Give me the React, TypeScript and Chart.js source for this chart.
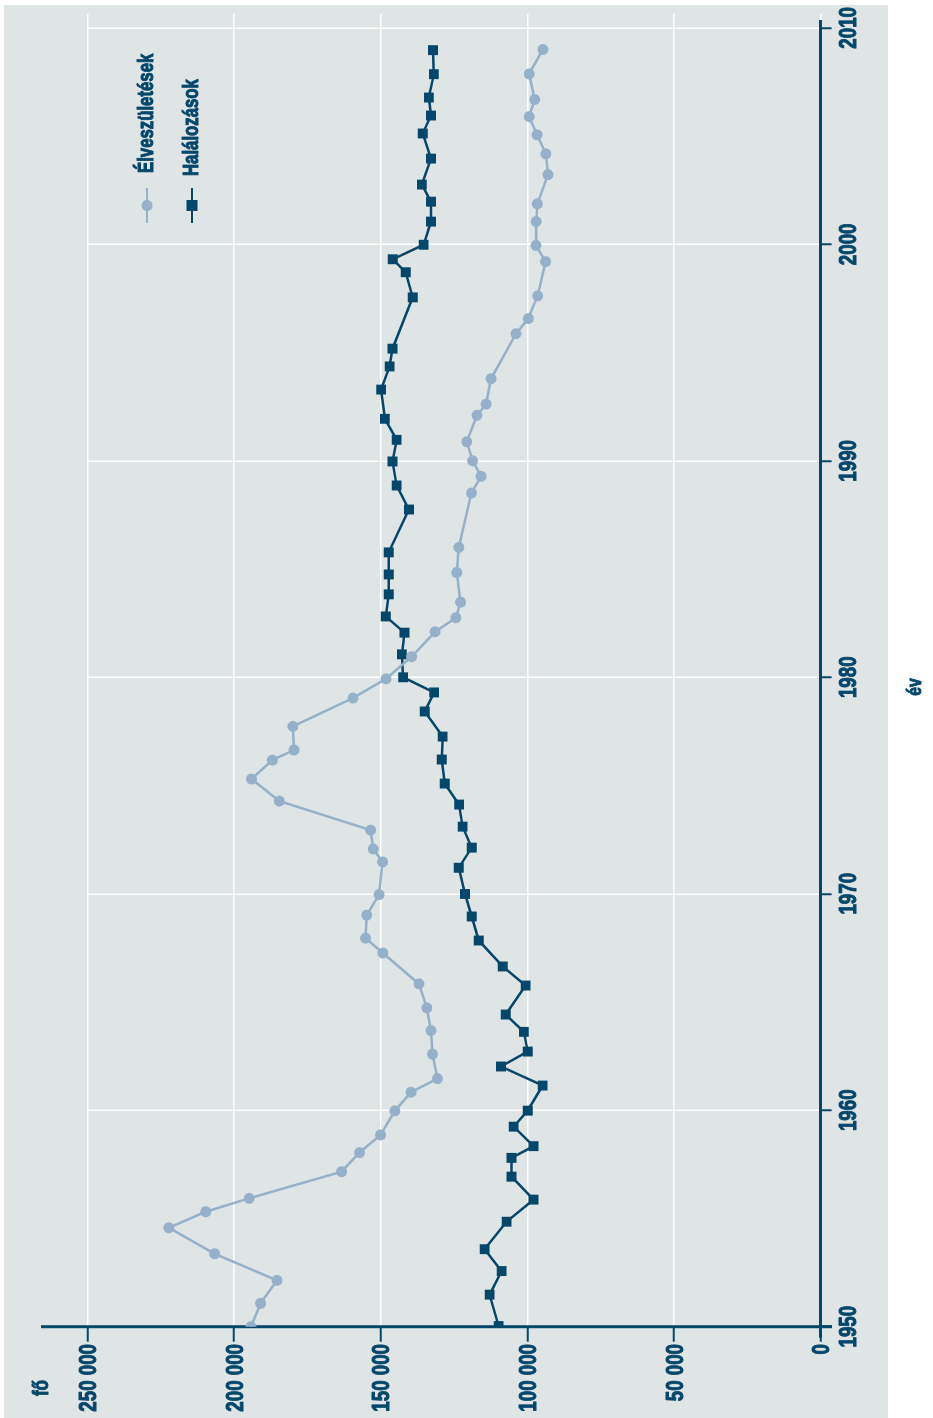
import React, { useEffect, useRef } from "react";
import { Chart, registerables } from "chart.js";

Chart.register(...registerables);

// ---- data ----
const birthYears = [
  1950.0, 1951.08, 1952.14, 1953.37, 1954.57, 1955.31, 1955.93, 1957.16, 1958.04, 1958.86,
  1959.97, 1960.83, 1961.46, 1962.59, 1963.68, 1964.73, 1965.84, 1967.26, 1967.95, 1969.01,
  1969.96, 1971.47, 1972.07, 1972.94, 1974.28, 1975.3, 1976.17, 1976.64, 1977.73, 1979.04,
  1979.93, 1980.95, 1982.1, 1982.75, 1983.47, 1984.84, 1986.0, 1988.51, 1989.28, 1990.0,
  1990.88, 1992.1, 1992.62, 1993.79, 1995.87, 1996.57, 1997.62, 1999.2, 1999.95, 2001.05,
  2001.87, 2003.22, 2004.18, 2005.06, 2005.9, 2006.69, 2007.87, 2009.0,
];
const birthValues = [
  194300, 191000, 185400, 206700, 222300, 209700, 194900, 163400, 157300, 150100,
  145200, 139700, 130700, 132400, 132900, 134300, 137000, 149300, 155200, 154800,
  150600, 149400, 152600, 153500, 184600, 194100, 187000, 179600, 180000, 159500,
  148200, 139500, 131500, 124400, 122800, 124100, 123400, 119100, 115800, 118700,
  120700, 117200, 114100, 112400, 103900, 99700, 96500, 93800, 97100, 97000,
  96600, 93000, 93700, 96700, 99400, 97500, 99400, 94700,
];
const deathYears = [
  1950.03, 1951.48, 1952.57, 1953.58, 1954.85, 1955.87, 1956.93, 1957.8, 1958.34, 1959.24,
  1959.98, 1961.14, 1962.02, 1962.71, 1963.62, 1964.42, 1965.76, 1966.64, 1967.84, 1968.95,
  1969.99, 1971.2, 1972.13, 1973.1, 1974.12, 1975.09, 1976.2, 1977.26, 1978.42, 1979.3,
  1980.0, 1981.06, 1982.06, 1982.81, 1983.83, 1984.75, 1985.77, 1987.75, 1988.86, 1989.97,
  1990.97, 1991.94, 1993.29, 1994.36, 1995.18, 1997.55, 1998.71, 1999.31, 1999.98, 2001.05,
  2001.97, 2002.76, 2003.96, 2005.12, 2005.95, 2006.78, 2007.86, 2008.97,
];
const deathValues = [
  109800, 112900, 108800, 114600, 107100, 97900, 105400, 105400, 97900, 104700,
  99900, 94800, 109000, 99900, 101200, 107400, 100600, 108400, 116600, 119000,
  121300, 123400, 119000, 122100, 123300, 128200, 129200, 128900, 135000, 131800,
  142400, 142800, 141900, 148300, 147300, 147300, 147300, 140400, 144600, 146000,
  144600, 148600, 149900, 147000, 146000, 139100, 141500, 145900, 135400, 132900,
  132900, 136000, 132900, 135700, 132900, 133600, 131900, 132200,
];
const seriesLabels = ["Élveszületések", "Halálozások"];
const valueTicks = [0, 50000, 100000, 150000, 200000, 250000];
const yearTicks = [1950, 1960, 1970, 1980, 1990, 2000, 2010];
const valueAxisTitle = "fő";
const yearAxisTitle = "év";

// ---- styling ----
const W = 1418;
const H = 933;
const DARK = "#04476b";
const LIGHT = "#94b1c9";
const BG = "#dfe4e4";
const FONT = "'Liberation Sans', Arial, sans-serif";
const NARROW = 0.78;

const fmt = (v: number) => String(v).replace(/\B(?=(\d{3})+(?!\d))/g, " ");

function narrowText(ctx: any, text: string, u: number, v: number, size: number, align: string, baseline: string) {
  ctx.save();
  ctx.font = `bold ${size}px ${FONT}`;
  ctx.textAlign = align;
  ctx.textBaseline = baseline;
  ctx.fillStyle = DARK;
  ctx.strokeStyle = DARK;
  ctx.lineWidth = 1;
  ctx.lineJoin = "round";
  ctx.translate(u, v);
  ctx.scale(NARROW, 1);
  ctx.fillText(text, 0, 0);
  ctx.strokeText(text, 0, 0);
  ctx.restore();
}

const decor = {
  id: "decor",
  beforeDraw(chart: any) {
    const ctx = chart.ctx;
    ctx.save();
    ctx.fillStyle = "#ffffff";
    ctx.fillRect(0, 0, W, H);
    ctx.fillStyle = BG;
    ctx.fillRect(0, 4, 1413, 884);
    ctx.restore();
  },
  beforeDatasetsDraw(chart: any) {
    const ctx = chart.ctx;
    const xs = chart.scales.x;
    const ys = chart.scales.y;
    const u0 = xs.getPixelForValue(yearTicks[0]);
    const v0 = ys.getPixelForValue(0);
    ctx.save();
    ctx.strokeStyle = DARK;
    ctx.lineWidth = 3;
    ctx.beginPath();
    ctx.moveTo(u0 - 11, v0);
    ctx.lineTo(1398, v0);
    ctx.moveTo(u0, 41);
    ctx.lineTo(u0, v0 + 11.5);
    ctx.stroke();
    ctx.restore();
  },
  afterDraw(chart: any) {
    const ctx = chart.ctx;
    const xs = chart.scales.x;
    const ys = chart.scales.y;
    ctx.save();

    // tick labels
    yearTicks.forEach((t) => {
      narrowText(ctx, String(t), xs.getPixelForValue(t), 856, 24, "center", "alphabetic");
    });
    valueTicks.forEach((val) => {
      narrowText(ctx, fmt(val), 74, ys.getPixelForValue(val) + 8.6, 24, "right", "alphabetic");
    });

    // axis titles
    narrowText(ctx, valueAxisTitle, 30, 42, 22, "center", "middle");
    narrowText(ctx, yearAxisTitle, 731, 915, 20, "center", "middle");

    // legend
    const items = [
      { color: LIGHT, style: "circle", v: 147, textU: 1245 },
      { color: DARK, style: "rect", v: 192, textU: 1242 },
    ];
    items.forEach((it, i) => {
      ctx.strokeStyle = it.color;
      ctx.fillStyle = it.color;
      ctx.lineWidth = 2;
      ctx.beginPath();
      ctx.moveTo(1195, it.v);
      ctx.lineTo(1230, it.v);
      ctx.stroke();
      if (it.style === "circle") {
        ctx.beginPath();
        ctx.arc(1212.5, it.v, 5.5, 0, Math.PI * 2);
        ctx.fill();
      } else {
        ctx.fillRect(1212.5 - 5.5, it.v - 5.5, 11, 11);
      }
      narrowText(ctx, seriesLabels[i], it.textU, it.v, 21.5, "left", "middle");
    });
    ctx.restore();
  },
};

export default function App() {
  const ref = useRef<HTMLCanvasElement | null>(null);

  useEffect(() => {
    if (!ref.current) return;
    const births = birthYears.map((x, i) => ({ x, y: birthValues[i] }));
    const deaths = deathYears.map((x, i) => ({ x, y: deathValues[i] }));
    const chart = new Chart(ref.current, {
      type: "line",
      data: {
        datasets: [
          {
            label: seriesLabels[0],
            data: births,
            borderColor: LIGHT,
            backgroundColor: LIGHT,
            borderWidth: 2.5,
            pointStyle: "circle",
            pointRadius: 5.5,
            pointBorderWidth: 0,
            tension: 0,
          },
          {
            label: seriesLabels[1],
            data: deaths,
            borderColor: DARK,
            backgroundColor: DARK,
            borderWidth: 2.5,
            pointStyle: "rect",
            pointRadius: 7,
            pointBorderWidth: 0,
            tension: 0,
          },
        ],
      },
      options: {
        animation: false,
        responsive: false,
        devicePixelRatio: 1,
        layout: { padding: { left: 0, top: 87.6, right: 14, bottom: 0 } },
        plugins: { legend: { display: false }, tooltip: { enabled: false } },
        scales: {
          x: {
            type: "linear",
            min: 1950,
            max: 2010.64,
            afterFit: (s: any) => {
              s.height = H - 820.6;
            },
            afterBuildTicks: (s: any) => {
              s.ticks = yearTicks.map((value) => ({ value }));
            },
            border: { display: false },
            grid: {
              color: "#ffffff",
              lineWidth: 1.5,
              tickColor: DARK,
              tickWidth: 2,
              tickLength: 11,
            },
            ticks: {
              color: "rgba(0,0,0,0)",
              padding: 4,
              maxRotation: 0,
              font: { family: FONT, size: 12, weight: "bold" },
              callback: (v: any) => String(v),
            },
          },
          y: {
            type: "linear",
            min: 0,
            max: 250000,
            afterFit: (s: any) => {
              s.width = 91.3;
            },
            afterBuildTicks: (s: any) => {
              s.ticks = valueTicks.map((value) => ({ value }));
            },
            border: { display: false },
            grid: {
              color: "#ffffff",
              lineWidth: 1.5,
              tickColor: DARK,
              tickWidth: 2,
              tickLength: 15,
            },
            ticks: {
              color: "rgba(0,0,0,0)",
              padding: 2,
              font: { family: FONT, size: 12, weight: "bold" },
              callback: (v: any) => fmt(Number(v)),
            },
          },
        },
      },
      plugins: [decor],
    } as any);
    return () => chart.destroy();
  }, []);

  return (
    <div style={{ position: "absolute", left: 0, top: 0, width: 933, height: 1418, overflow: "hidden", background: "#ffffff" }}>
      <div
        style={{
          position: "absolute",
          left: 0,
          top: 0,
          width: W,
          height: H,
          transformOrigin: "0 0",
          transform: `translate(0px, ${W}px) rotate(-90deg)`,
        }}
      >
        <canvas ref={ref} width={W} height={H} style={{ width: W, height: H, display: "block" }} />
      </div>
    </div>
  );
}
